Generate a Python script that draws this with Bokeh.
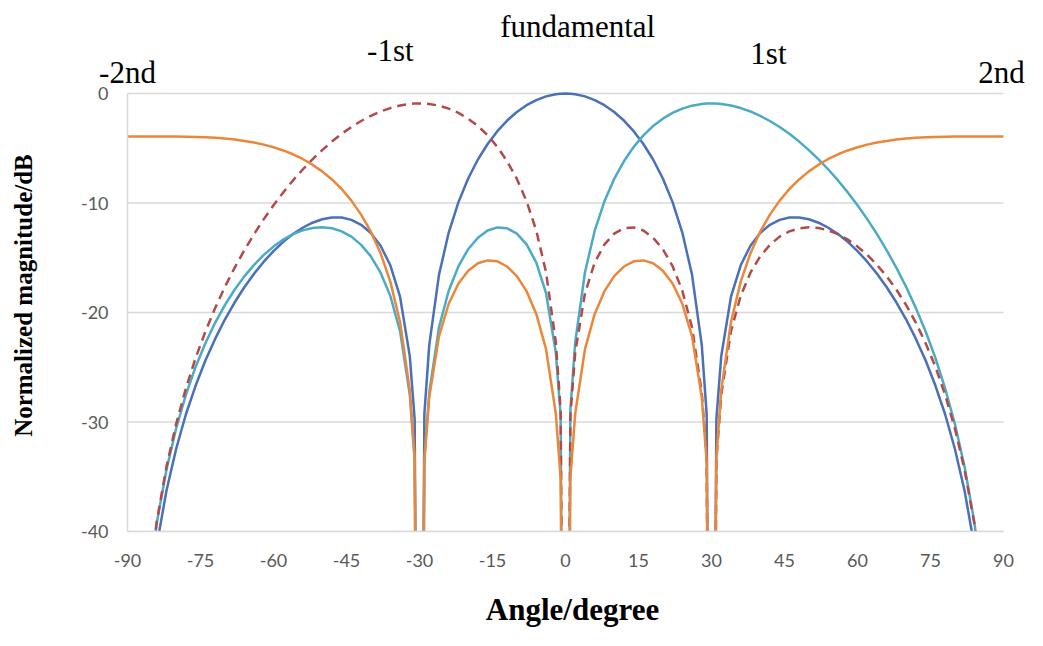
from math import pi
from bokeh.plotting import figure
from bokeh.models import Range1d
from bokeh.core.properties import value
from bokeh.embed import file_html
from bokeh.resources import INLINE

# ---- data ----
angle = [-90, -88, -86, -84, -82, -80, -78, -76, -74, -72, -70, -68, -66, -64, -62, -60,
         -58, -56, -54, -52, -50, -48, -46, -44, -42, -40, -38, -36, -34, -32, -31, -30,
         -29, -28, -26, -24, -22, -20, -18, -16, -14, -12, -10, -8, -6, -4, -2, -1, 0,
         1, 2, 4, 6, 8, 10, 12, 14, 16, 18, 20, 22, 24, 26, 28, 29, 30, 31, 32, 34, 36,
         38, 40, 42, 44, 46, 48, 50, 52, 54, 56, 58, 60, 62, 64, 66, 68, 70, 72, 74, 76,
         78, 80, 82, 84, 86, 88, 90]

fundamental = [-100, -60.4, -48.3, -41.3, -36.28, -32.44, -29.29, -26.67, -24.38, -22.41,
               -20.64, -19.09, -17.69, -16.46, -15.36, -14.39, -13.55, -12.84, -12.26, -11.80,
               -11.48, -11.32, -11.33, -11.54, -11.99, -12.74, -13.90, -15.69, -18.56, -23.98,
               -29.73, -100, -29.25, -22.98, -16.56, -12.70, -9.92, -7.76, -6.03, -4.61, -3.44,
               -2.47, -1.69, -1.07, -0.60, -0.26, -0.07, -0.02, 0.0,
               -0.02, -0.07, -0.26, -0.60, -1.07, -1.69, -2.47, -3.44, -4.61, -6.03, -7.76,
               -9.92, -12.70, -16.56, -22.98, -29.25, -100, -29.73, -23.98, -18.56, -15.69,
               -13.90, -12.74, -11.99, -11.54, -11.33, -11.32, -11.48, -11.80, -12.26, -12.84,
               -13.55, -14.39, -15.36, -16.46, -17.69, -19.09, -20.64, -22.41, -24.38, -26.67,
               -29.29, -32.44, -36.28, -41.3, -48.3, -60.4, -100]

first = [-100, -58.26, -46.26, -39.25, -34.36, -30.57, -27.51, -24.95, -22.80, -20.94,
         -19.32, -17.92, -16.70, -15.65, -14.74, -13.98, -13.34, -12.85, -12.50, -12.28,
         -12.22, -12.31, -12.59, -13.07, -13.82, -14.87, -16.36, -18.48, -21.70, -27.51,
         -33.45, -100, -33.35, -27.33, -21.36, -18.01, -15.77, -14.22, -13.17, -12.51,
         -12.23, -12.31, -12.80, -13.78, -15.44, -18.24, -23.64, -29.39, -100,
         -28.92, -22.69, -16.32, -12.53, -9.85, -7.80, -6.19, -4.88, -3.82, -2.97, -2.30,
         -1.77, -1.38, -1.11, -0.96, -0.92, -0.91, -0.92, -0.96, -1.10, -1.33, -1.64,
         -2.04, -2.51, -3.06, -3.68, -4.39, -5.17, -6.01, -6.94, -7.94, -9.03, -10.21,
         -11.47, -12.84, -14.32, -15.92, -17.67, -19.60, -21.74, -24.14, -26.92, -30.16,
         -34.09, -39.12, -46.2, -58.2, -100]

minus_first = [-100, -58.2, -46.2, -39.12, -34.09, -30.16, -26.92, -24.14, -21.74, -19.60,
               -17.67, -15.92, -14.32, -12.84, -11.47, -10.21, -9.03, -7.94, -6.94, -6.01,
               -5.17, -4.39, -3.68, -3.06, -2.51, -2.04, -1.64, -1.33, -1.10, -0.96, -0.92,
               -0.91, -0.92, -0.96, -1.11, -1.38, -1.77, -2.30, -2.97, -3.82, -4.88, -6.19,
               -7.80, -9.85, -12.53, -16.32, -22.69, -28.92, -100,
               -29.39, -23.64, -18.24, -15.44, -13.78, -12.80, -12.31, -12.23, -12.51, -13.17,
               -14.22, -15.77, -18.01, -21.36, -27.33, -33.35, -100, -33.45, -27.51, -21.70,
               -18.48, -16.36, -14.87, -13.82, -13.07, -12.59, -12.31, -12.22, -12.28, -12.50,
               -12.85, -13.34, -13.98, -14.74, -15.65, -16.70, -17.92, -19.32, -20.94, -22.80,
               -24.95, -27.51, -30.57, -34.36, -39.25, -46.26, -58.26, -100]

second = [-3.92, -3.92, -3.92, -3.92, -3.93, -3.93, -3.95, -3.97, -4.00, -4.05, -4.12,
          -4.21, -4.33, -4.48, -4.67, -4.91, -5.20, -5.55, -5.98, -6.50, -7.11, -7.85,
          -8.72, -9.78, -11.06, -12.62, -14.59, -17.18, -20.86, -27.09, -33.24, -100,
          -33.58, -27.74, -22.18, -19.20, -17.35, -16.18, -15.50, -15.24, -15.33, -15.80,
          -16.68, -18.05, -20.13, -23.35, -29.20, -35.18, -100,
          -35.18, -29.20, -23.35, -20.13, -18.05, -16.68, -15.80, -15.33, -15.24, -15.50,
          -16.18, -17.35, -19.20, -22.18, -27.74, -33.58, -100, -33.24, -27.09, -20.86,
          -17.18, -14.59, -12.62, -11.06, -9.78, -8.72, -7.85, -7.11, -6.50, -5.98, -5.55,
          -5.20, -4.91, -4.67, -4.48, -4.33, -4.21, -4.12, -4.05, -4.00, -3.97, -3.95,
          -3.93, -3.93, -3.92, -3.92, -3.92, -3.92]

x_ticks = [-90, -75, -60, -45, -30, -15, 0, 15, 30, 45, 60, 75, 90]
x_tick_labels = ["-90", "-75", "-60", "-45", "-30", "-15", "0", "15", "30", "45", "60", "75", "90"]
y_ticks = [-40, -30, -20, -10, 0]
y_tick_labels = ["-40", "-30", "-20", "-10", "0"]

series_labels = ["-2nd", "-1st", "fundamental", "1st", "2nd"]
label_x = [-90.0, -36.0, 2.5, 41.7, 89.6]
label_y = [1.9, 3.92, 6.15, 3.65, 1.9]

# ---- figure: the frame covers the whole canvas; the plot area is x -90..90, y -40..0 ----
W, H = 1027, 630
x_lo, x_hi = -116.10, 94.93
y_lo, y_hi = -49.04, 8.493

p = figure(width=W, height=H, x_range=Range1d(x_lo, x_hi), y_range=Range1d(y_lo, y_hi),
           output_backend="svg", toolbar_location=None,
           min_border_left=0, min_border_right=0, min_border_top=0, min_border_bottom=0)
p.axis.visible = False
p.grid.visible = False
p.outline_line_color = None
p.background_fill_color = "white"
p.border_fill_color = "white"

grid_col = "#D9D9D9"
xmin, xmax = min(x_ticks), max(x_ticks)
ymin, ymax = min(y_ticks), max(y_ticks)

# horizontal gridlines
p.segment(x0=[xmin] * len(y_ticks), x1=[xmax] * len(y_ticks), y0=y_ticks, y1=y_ticks,
          line_color=grid_col, line_width=1.5)

lw = 2.5
p.line(angle, fundamental, line_color="#4A70B8", line_width=lw)
p.line(angle, first, line_color="#4BAAC4", line_width=lw)
p.line(angle, minus_first, line_color="#B24A48", line_width=lw, line_dash="9 6")
p.line(angle, second, line_color="#EA873A", line_width=lw)

# the value axis ends at -40: hide what lies below it
p.quad(left=[xmin - 2], right=[xmax + 2], top=[ymin], bottom=[y_lo],
       fill_color="white", line_color=None)

# axis lines
p.segment(x0=[xmin, xmin], x1=[xmax, xmin], y0=[ymin, ymin], y1=[ymin, ymax],
          line_color=grid_col, line_width=1.5)

# tick labels
p.text(x=x_ticks, y=[ymin] * len(x_ticks), text=x_tick_labels, y_offset=29,
       text_align="center", text_baseline="middle",
       text_font=value("Lato"), text_font_size="18px", text_color="#595959")
p.text(x=[xmin] * len(y_ticks), y=y_ticks, text=y_tick_labels, x_offset=-19,
       text_align="right", text_baseline="middle",
       text_font=value("Lato"), text_font_size="18px", text_color="#595959")

# series labels above the plot
p.text(x=label_x, y=label_y, text=series_labels, text_align="center",
       text_baseline="alphabetic", text_font=value("Liberation Serif"),
       text_font_size="31px", text_color="black")

# axis titles
p.text(x=[1.44], y=[-47.13], text=["Angle/degree"], text_align="center",
       text_baseline="alphabetic", text_font=value("Liberation Serif"),
       text_font_size="31px", text_font_style="bold", text_color="black")
p.text(x=[-111.37], y=[-18.45], text=["Normalized magnitude/dB"], angle=pi / 2,
       text_align="center", text_baseline="middle", text_font=value("Liberation Serif"),
       text_font_size="25px", text_font_style="bold", text_color="black")

open("out.html", "w").write(file_html(p, INLINE))
